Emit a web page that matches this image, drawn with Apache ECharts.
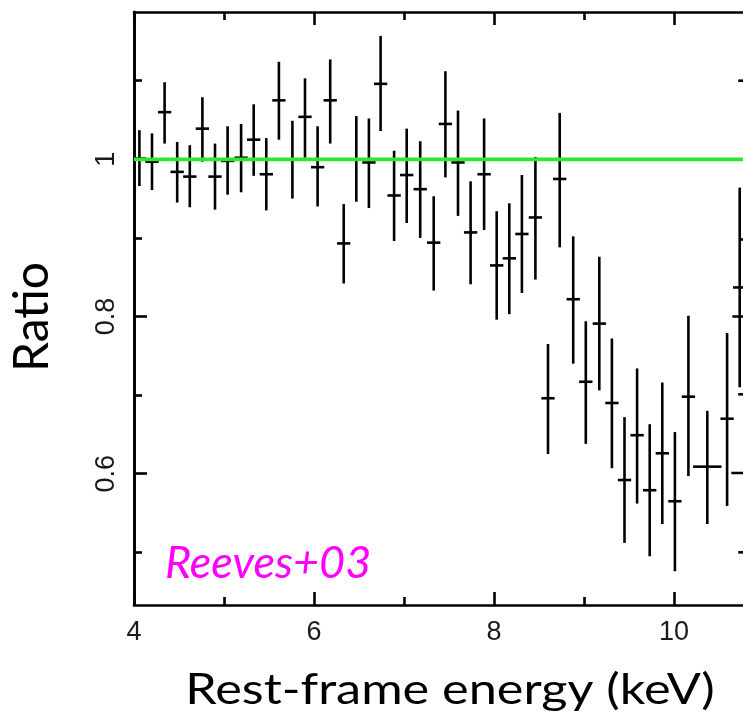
<!DOCTYPE html>
<html>
<head>
<meta charset="utf-8" />
<title>Ratio - Reeves+03</title>
<script type="text/javascript" src="https://cdn.jsdelivr.net/npm/echarts@6/dist/echarts.min.js"></script>
<style>
html, body { margin: 0; padding: 0; background: #fff; }
#main { width: 743px; height: 718px; }
</style>
</head>
<body>
<div id="main"></div>
<script type="text/javascript">
// bin centres (keV) and ratio with error bar ends
// last six bins sit just past the right edge, only their crossbars show
var energy = [4.06, 4.20, 4.34, 4.48, 4.62, 4.76, 4.90, 5.04, 5.19, 5.33,
              5.47, 5.61, 5.76, 5.90, 6.04, 6.18, 6.33, 6.47, 6.61, 6.74,
              6.89, 7.03, 7.18, 7.33, 7.46, 7.60, 7.74, 7.89, 8.03, 8.17,
              8.31, 8.46, 8.60, 8.73, 8.88, 9.02, 9.17, 9.31, 9.45, 9.59,
              9.73, 9.87, 10.01, 10.16, 10.37, 10.59, 10.73,
              10.87, 10.87, 10.87, 10.87, 10.87, 10.87];
var ratio = [1.001, 0.997, 1.060, 0.984, 0.978, 1.039, 0.978, 0.998, 1.002, 1.025,
             0.981, 1.075, 1.000, 1.054, 0.990, 1.075, 0.893, 1.000, 0.996, 1.096,
             0.954, 0.980, 0.962, 0.894, 1.045, 0.996, 0.907, 0.981, 0.865, 0.874,
             0.905, 0.926, 0.696, 0.975, 0.822, 0.717, 0.791, 0.690, 0.592, 0.649,
             0.579, 0.626, 0.565, 0.698, 0.609, 0.670, 0.837,
             1.100, 0.898, 0.800, 0.701, 0.601, 0.500];
var ratioHigh = [1.037, 1.033, 1.098, 1.022, 1.018, 1.079, 1.020, 1.042, 1.045, 1.070,
                 1.027, 1.124, 1.049, 1.103, 1.042, 1.127, 0.943, 1.055, 1.052, 1.157,
                 1.011, 1.039, 1.023, 0.953, 1.112, 1.062, 0.972, 1.052, 0.934, 0.944,
                 0.980, 1.003, 0.765, 1.059, 0.902, 0.794, 0.876, 0.772, 0.672, 0.734,
                 0.663, 0.716, 0.653, 0.801, 0.680, 0.779, 0.964,
                 1.200, 1.000, 0.900, 0.800, 0.700, 0.600];
var ratioLow = [0.966, 0.961, 1.020, 0.945, 0.939, 0.997, 0.936, 0.955, 0.958, 0.979,
                0.935, 1.025, 0.950, 1.002, 0.940, 1.020, 0.842, 0.946, 0.938, 1.036,
                0.896, 0.919, 0.900, 0.833, 0.977, 0.928, 0.841, 0.910, 0.796, 0.803,
                0.830, 0.847, 0.625, 0.888, 0.740, 0.638, 0.706, 0.607, 0.512, 0.562,
                0.495, 0.536, 0.476, 0.597, 0.536, 0.559, 0.710,
                1.000, 0.800, 0.700, 0.600, 0.500, 0.400];
var binHalfWidth = [0.074, 0.074, 0.074, 0.074, 0.074, 0.074, 0.074, 0.074, 0.074, 0.074,
                    0.074, 0.074, 0.074, 0.074, 0.074, 0.074, 0.074, 0.074, 0.074, 0.074,
                    0.074, 0.074, 0.074, 0.074, 0.074, 0.074, 0.074, 0.074, 0.074, 0.074,
                    0.074, 0.074, 0.074, 0.074, 0.074, 0.074, 0.074, 0.074, 0.074, 0.074,
                    0.074, 0.074, 0.074, 0.074, 0.158, 0.074, 0.074,
                    0.156, 0.137, 0.222, 0.156, 0.233, 0.156];
var modelLine = [[4, 1], [11, 1]];
var yMajorTicks = [0.6, 0.8, 1];
var yMinorTicks = [0.5, 0.7, 0.9, 1.1];

var errData = [];
for (var i = 0; i < energy.length; i++) {
    errData.push([energy[i], ratio[i], ratioLow[i], ratioHigh[i], binHalfWidth[i]]);
}

var axisColor = '#000';
var labelFont = 'Liberation Sans';
var titleFont = 'Lato';
// plot box runs past the right edge of the picture (cropped figure)
var gridBox = { left: 134, top: 12, width: 630, bottom: 113, outerBoundsMode: 'none' };

function xAxisCfg(pos, showLabel, gridIndex) {
    return {
        type: 'value', gridIndex: gridIndex, position: pos, min: 4, max: 11, interval: 2,
        show: gridIndex === 0,
        axisLine: { show: true, onZero: false, lineStyle: { color: axisColor, width: 2.6 } },
        axisTick: { show: true, inside: true, length: 13, lineStyle: { color: axisColor, width: 2.6 } },
        minorTick: { show: true, splitNumber: 2, length: 8, lineStyle: { color: axisColor, width: 2.6 } },
        axisLabel: {
            show: showLabel, margin: 14, fontSize: 27, fontFamily: labelFont, color: '#1a1a1a',
            formatter: function (v) { return v <= 10 ? String(v) : ''; }
        },
        splitLine: { show: false },
        minorSplitLine: { show: false }
    };
}

function yAxisCfg(ticks, len, showLabel, gridIndex) {
    return {
        type: 'value', gridIndex: gridIndex, position: 'left', min: 0.433, max: 1.1874,
        axisLine: { show: true, onZero: false, lineStyle: { color: axisColor, width: 2.6 } },
        axisTick: { show: true, inside: true, length: len, customValues: ticks, lineStyle: { color: axisColor, width: 2.6 } },
        axisLabel: { show: showLabel, customValues: ticks, rotate: 90, margin: 14, fontSize: 27, fontFamily: labelFont, color: '#1a1a1a' },
        splitLine: { show: false }
    };
}

var myChart = echarts.init(document.getElementById('main'));
myChart.setOption({
    animation: false,
    backgroundColor: '#fff',
    grid: [gridBox, gridBox],
    xAxis: [xAxisCfg('bottom', true, 0), xAxisCfg('top', false, 0), xAxisCfg('bottom', false, 1)],
    yAxis: [yAxisCfg(yMajorTicks, 13, true, 0), yAxisCfg(yMinorTicks, 8, false, 1)],
    series: [
        {
            type: 'custom',
            clip: true,
            data: errData,
            encode: { x: 0, y: 1 },
            renderItem: function (params, api) {
                var x = api.value(0), v = api.value(1);
                var lo = api.value(2), hi = api.value(3), hw = api.value(4);
                var top = api.coord([x, hi]);
                var bot = api.coord([x, lo]);
                var l = api.coord([x - hw, v]);
                var r = api.coord([x + hw, v]);
                var st = { stroke: '#000', lineWidth: 2.6 };
                return {
                    type: 'group',
                    children: [
                        { type: 'line', shape: { x1: top[0], y1: top[1], x2: bot[0], y2: bot[1] }, style: st },
                        { type: 'line', shape: { x1: l[0], y1: l[1], x2: r[0], y2: r[1] }, style: st }
                    ]
                };
            },
            z: 2
        },
        {
            type: 'line',
            data: modelLine,
            symbol: 'none',
            lineStyle: { color: '#2ee82e', width: 3.8 },
            z: 5
        }
    ],
    graphic: [
        {
            type: 'text', x: 33, y: 317, rotation: Math.PI / 2,
            style: { text: 'Ratio', font: '48px ' + titleFont, fill: '#000', textAlign: 'center', textVerticalAlign: 'middle' }
        },
        {
            type: 'text', x: 450, y: 690, scaleX: 1.2,
            style: { text: 'Rest-frame energy (keV)', font: '42px ' + titleFont, fill: '#000', textAlign: 'center', textVerticalAlign: 'middle' }
        },
        {
            type: 'text', x: 165, y: 563,
            style: { text: 'Reeves+03', font: 'italic 45px ' + titleFont, fill: '#ff00ff', textAlign: 'left', textVerticalAlign: 'middle' }
        }
    ]
});
</script>
</body>
</html>
